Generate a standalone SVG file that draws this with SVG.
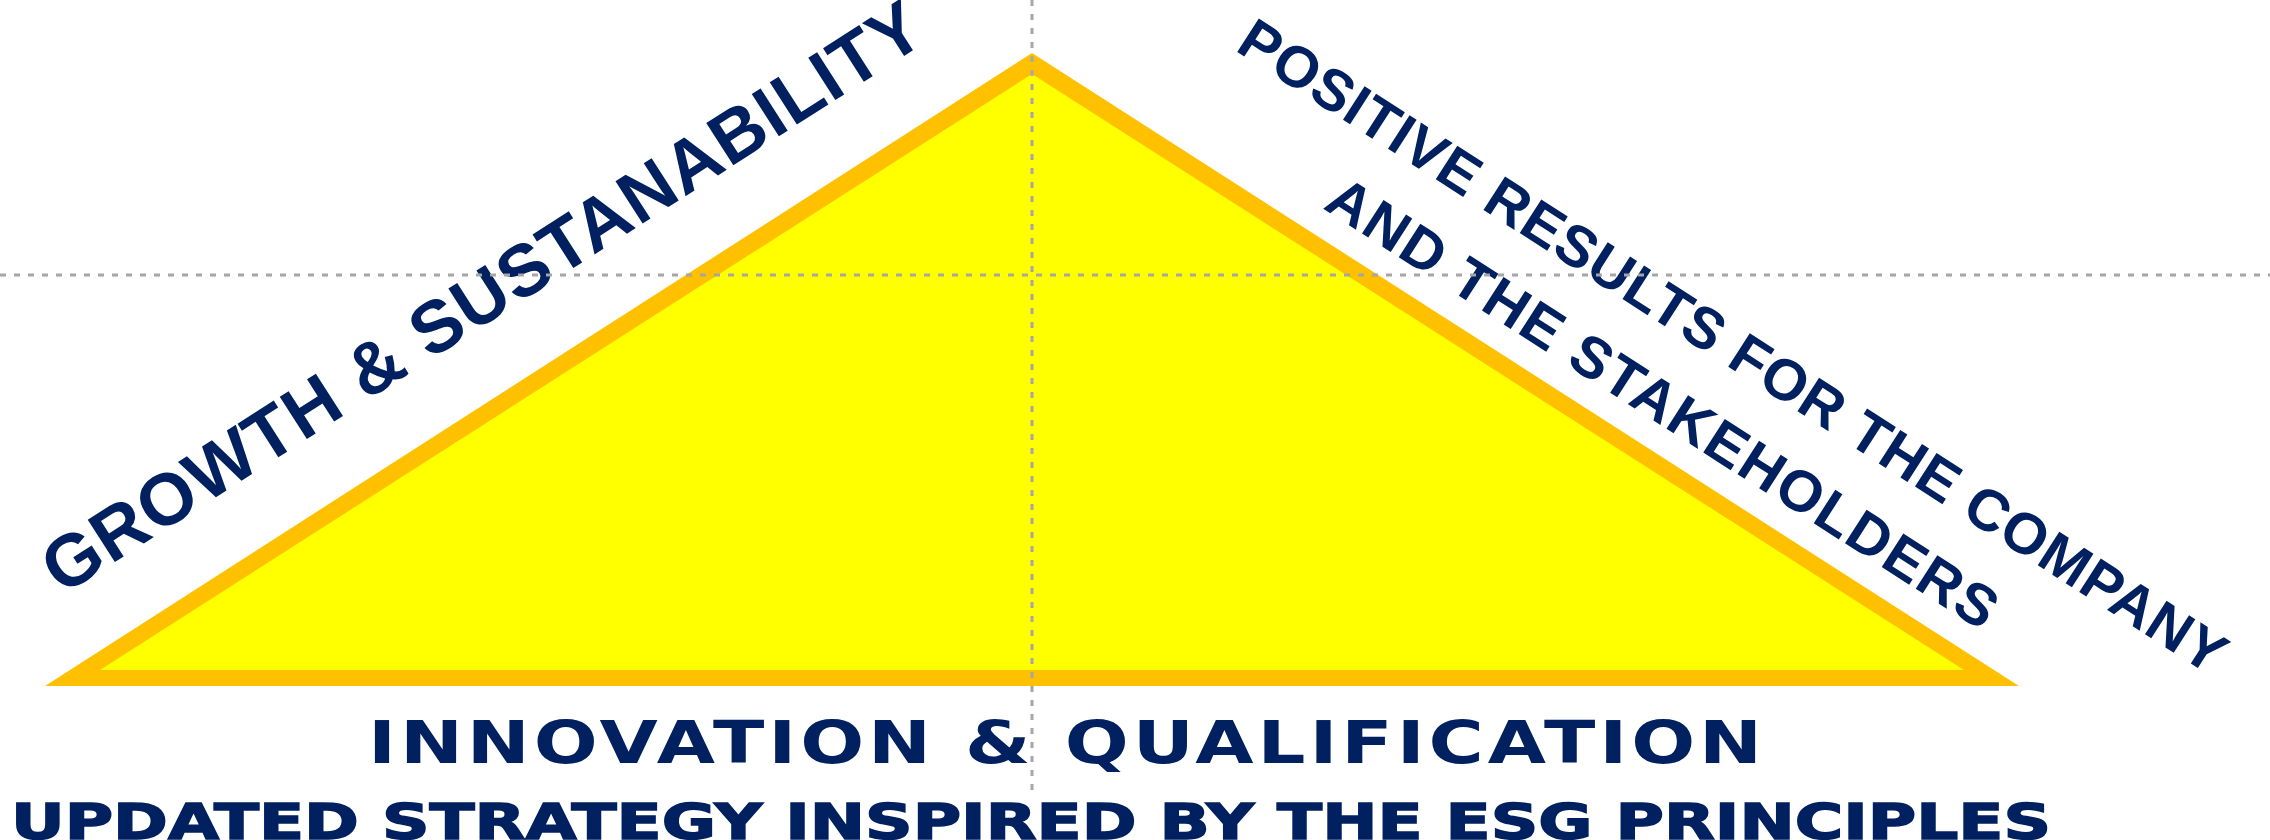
<svg xmlns="http://www.w3.org/2000/svg" width="2270" height="840" viewBox="0 0 2270 840">
  <style>
    .lbl { fill: #002060; font-family: "Liberation Sans", Arial, sans-serif; font-weight: bold; }
    .base { fill: #002060; font-family: "DejaVu Sans", Verdana, sans-serif; font-weight: bold; }
    .guide { stroke: #A6A6A6; stroke-width: 3; stroke-dasharray: 6 8; fill: none; }
  </style>
  <rect width="2270" height="840" fill="#FFFFFF"/>
  <g id="triangle">
    <polygon points="1032,53 45,686 2019,686" fill="#FFC000"/>
    <polygon points="1032,74 100,670 1964,670" fill="#FFFF00"/>
  </g>
  <g id="label-left">
    <text class="lbl" font-size="73" transform="translate(62,596) rotate(-32.67)" textLength="1030" lengthAdjust="spacing">GROWTH &amp; SUSTANABILITY</text>
  </g>
  <g id="label-right">
    <text class="lbl" font-size="58" transform="translate(1234,50) rotate(32.67)" textLength="1160" lengthAdjust="spacing">POSITIVE RESULTS FOR THE COMPANY</text>
    <text class="lbl" font-size="58" transform="translate(1322,208) rotate(32.67)" textLength="784" lengthAdjust="spacing">AND THE STAKEHOLDERS</text>
  </g>
  <g id="label-bottom">
    <text class="base" font-size="58" letter-spacing="3" x="368" y="763" textLength="1398" lengthAdjust="spacingAndGlyphs">INNOVATION &amp; QUALIFICATION</text>
    <text class="base" font-size="49" x="11" y="839" textLength="2040" lengthAdjust="spacingAndGlyphs" stroke="#002060" stroke-width="1.5">UPDATED STRATEGY INSPIRED BY THE ESG PRINCIPLES</text>
  </g>
  <g id="connectors">
    <line class="guide" x1="1032" y1="0" x2="1032" y2="797"/>
    <line class="guide" x1="0" y1="275" x2="2270" y2="275"/>
  </g>
</svg>
